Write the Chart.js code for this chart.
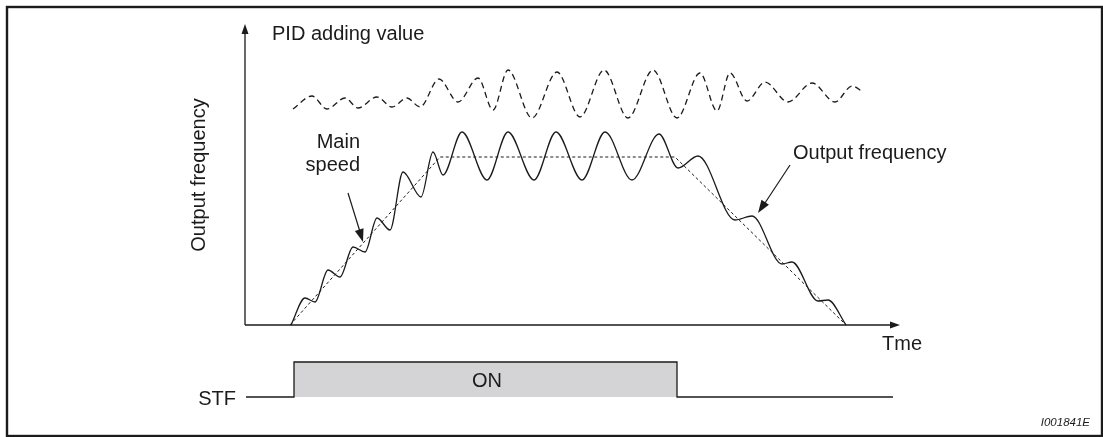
<!DOCTYPE html>
<html>
<head>
<meta charset="utf-8">
<script src="https://cdn.jsdelivr.net/npm/chart.js@4"></script>
<style>
  html, body { margin: 0; padding: 0; background: #fff; }
  #wrap { width: 1103px; height: 437px; }
</style>
</head>
<body>
<div id="wrap"><canvas id="pidChart" width="1103" height="437"></canvas></div>
<script>
// time / level values (one unit ~ one pixel of the original)
const pidTime = [48, 67, 82, 100, 113, 132, 147, 162, 175, 194, 213, 233, 248, 263, 287, 312, 335, 359, 383, 408, 432, 455, 472, 485, 502, 520, 543, 567, 590, 607, 618];
const pidValue = [216, 229, 216, 227, 217, 228, 218, 227, 218, 246, 223, 247, 215, 255, 207, 253, 208, 255, 207, 255, 207, 252, 214, 252, 224, 243, 223, 242, 223, 239, 233];

const outTime = [46, 60, 70, 83, 95, 108, 120, 132, 145, 158, 176, 188, 198, 217, 242, 263, 289, 311, 337, 360, 387, 414, 433, 453, 490, 507, 537, 547, 573, 583, 601];
const outFreq = [0, 27, 23, 55, 48, 78, 73, 107, 95, 153, 128, 173, 150, 193, 145, 193, 145, 193, 145, 193, 145, 191, 157, 169, 105, 109, 61, 63, 24, 25, 0];

const mainTime = [45, 195, 430, 601];
const mainSpeed = [0, 168, 168, 0];

const stfTime = [1, 49, 49, 432, 432, 648];
const stfLevel = [-72, -72, -37, -37, -72, -72];
const stfLow = -72;

const ink = '#1b1b1b';
const font = '"Liberation Sans", Arial, sans-serif';

function pts(xs, ys) {
    return xs.map((x, i) => ({ x: x, y: ys[i] }));
}

function arrowHead(ctx, x1, y1, x2, y2, len, half) {
    const a = Math.atan2(y2 - y1, x2 - x1);
    ctx.beginPath();
    ctx.moveTo(x2, y2);
    ctx.lineTo(x2 - len * Math.cos(a) + half * Math.sin(a), y2 - len * Math.sin(a) - half * Math.cos(a));
    ctx.lineTo(x2 - len * Math.cos(a) - half * Math.sin(a), y2 - len * Math.sin(a) + half * Math.cos(a));
    ctx.closePath();
    ctx.fill();
}

const decorations = {
    id: 'decorations',
    afterDatasetsDraw(chart) {
        const ctx = chart.ctx;
        const xs = chart.scales.x, ys = chart.scales.y;
        const px = v => xs.getPixelForValue(v);
        const py = v => ys.getPixelForValue(v);
        ctx.save();
        ctx.strokeStyle = ink;
        ctx.fillStyle = ink;

        // frame
        ctx.lineWidth = 2.4;
        ctx.strokeRect(7, 7, 1095, 429);

        // axes
        ctx.lineWidth = 1.3;
        ctx.beginPath();
        ctx.moveTo(px(0), py(0));
        ctx.lineTo(px(0), py(292));
        ctx.moveTo(px(0), py(0));
        ctx.lineTo(px(646), py(0));
        ctx.stroke();
        arrowHead(ctx, px(0), py(0), px(0), py(301), 10, 3.5);
        arrowHead(ctx, px(0), py(0), px(655), py(0), 10, 3.5);

        // pointer arrows
        ctx.lineWidth = 1.2;
        ctx.beginPath();
        ctx.moveTo(px(103), py(132));
        ctx.lineTo(px(116), py(90));
        ctx.moveTo(px(545), py(160));
        ctx.lineTo(px(518), py(119));
        ctx.stroke();
        arrowHead(ctx, px(103), py(132), px(118), py(83), 13, 4.5);
        arrowHead(ctx, px(545), py(160), px(513), py(112), 13, 4.5);

        // texts
        ctx.font = '20px ' + font;
        ctx.textBaseline = 'alphabetic';
        ctx.textAlign = 'left';
        ctx.fillText('PID adding value', 272, 40);
        ctx.fillText('Output frequency', 793, 159);
        ctx.fillText('Tme', 882, 350);
        ctx.textAlign = 'right';
        ctx.fillText('Main', 360, 148);
        ctx.fillText('speed', 360, 171);
        ctx.fillText('STF', 236, 405);
        ctx.textAlign = 'center';
        ctx.fillText('ON', 487, 387);

        ctx.save();
        ctx.translate(205, 175);
        ctx.rotate(-Math.PI / 2);
        ctx.textAlign = 'center';
        ctx.fillText('Output frequency', 0, 0);
        ctx.restore();

        ctx.font = 'italic 11.5px ' + font;
        ctx.textAlign = 'right';
        ctx.fillText('I001841E', 1090, 426);
        ctx.restore();
    }
};

new Chart(document.getElementById('pidChart'), {
    type: 'line',
    data: {
        datasets: [
            {
                label: 'STF',
                data: pts(stfTime, stfLevel),
                borderColor: ink,
                borderWidth: 1.3,
                backgroundColor: '#d4d4d6',
                fill: { value: stfLow },
                tension: 0,
                pointRadius: 0
            },
            {
                label: 'Main speed',
                data: pts(mainTime, mainSpeed),
                borderColor: ink,
                borderWidth: 1,
                borderDash: [3, 2.5],
                fill: false,
                tension: 0,
                pointRadius: 0
            },
            {
                label: 'Output frequency',
                data: pts(outTime, outFreq),
                borderColor: ink,
                borderWidth: 1.3,
                fill: false,
                cubicInterpolationMode: 'monotone',
                pointRadius: 0
            },
            {
                label: 'PID adding value',
                data: pts(pidTime, pidValue),
                borderColor: ink,
                borderWidth: 1.3,
                borderDash: [6, 4],
                fill: false,
                cubicInterpolationMode: 'monotone',
                pointRadius: 0
            }
        ]
    },
    options: {
        responsive: false,
        animation: false,
        layout: { padding: { left: 245, right: 203, top: 24, bottom: 12 } },
        plugins: {
            legend: { display: false },
            tooltip: { enabled: false }
        },
        scales: {
            x: { type: 'linear', min: 0, max: 655, display: false },
            y: { type: 'linear', min: -100, max: 301, display: false }
        }
    },
    plugins: [decorations]
});
</script>
</body>
</html>
